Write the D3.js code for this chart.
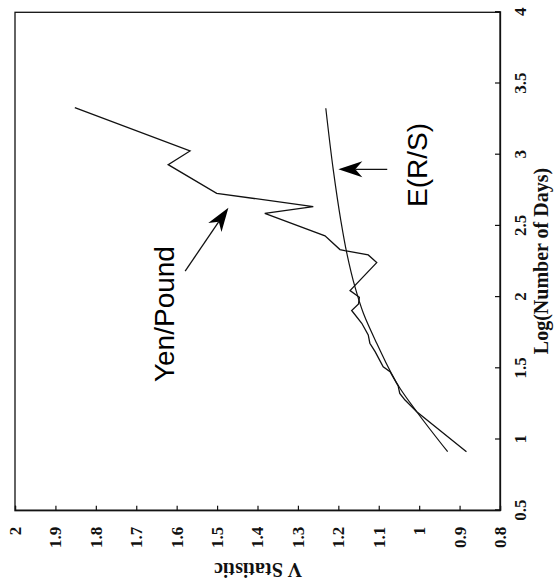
<!DOCTYPE html>
<html>
<head>
<meta charset="utf-8">
<script src="https://cdn.jsdelivr.net/npm/d3@7"></script>
<style>
  html, body { margin: 0; padding: 0; background: #fff; }
  svg { display: block; }
</style>
</head>
<body>
<svg id="chart" width="557" height="586"></svg>
<script>
// ---- Data (x = Log(Number of Days), v = V Statistic) ----
const yenLogDays = [3.330, 3.026, 2.930, 2.729, 2.635, 2.588, 2.430, 2.334, 2.326, 2.296, 2.242,
                    2.046, 1.999, 1.952, 1.906, 1.816, 1.734, 1.676, 1.617, 1.511, 1.476,
                    1.376, 1.324, 1.277, 1.195, 0.914];
const yenV       = [1.852, 1.567, 1.621, 1.501, 1.262, 1.382, 1.233, 1.196, 1.184, 1.126, 1.105,
                    1.171, 1.148, 1.150, 1.167, 1.142, 1.126, 1.122, 1.109, 1.089, 1.072,
                    1.052, 1.048, 1.035, 1.006, 0.883];
const ersLogDays = [3.326, 2.893, 2.541, 2.308, 2.073, 1.886, 1.676, 1.360, 1.195, 0.914];
const ersV       = [1.231, 1.2125, 1.194, 1.179, 1.159, 1.138, 1.105, 1.0475, 1.006, 0.9295];

const xTicks = [0.5, 1, 1.5, 2, 2.5, 3, 3.5, 4];
const xTickLabels = ["0.5", "1", "1.5", "2", "2.5", "3", "3.5", "4"];
const vTicks = [0.8, 0.9, 1.0, 1.1, 1.2, 1.3, 1.4, 1.5, 1.6, 1.7, 1.8, 1.9, 2.0];
const vTickLabels = ["0.8", "0.9", "1", "1.1", "1.2", "1.3", "1.4", "1.5", "1.6", "1.7", "1.8", "1.9", "2"];

// annotations: [label, labelX, labelV, arrowTailX, arrowTailV, arrowTipX, arrowTipV]
const annotations = [
  ["Yen/Pound", 1.881, 1.631, 2.183, 1.579, 2.628, 1.472],
  ["E(R/S)",    2.928, 1.004, 2.897, 1.079, 2.897, 1.200]
];

// ---- Layout: chart drawn in normal orientation, then rotated -90deg ----
const svg = d3.select("#chart");
svg.append("rect").attr("width", 557).attr("height", 586).attr("fill", "#fff");

const W = 498.4;   // length of the x (log days) axis
const H = 485;     // length of the V axis
const g = svg.append("g").attr("transform", "translate(15,510.7) rotate(-90)");

const x = d3.scaleLinear().domain([0.5, 4]).range([0, W]);
const y = d3.scaleLinear().domain([0.8, 2]).range([H, 0]);

const serif = "'Liberation Serif','Times New Roman',Times,serif";
const sans = "'Liberation Sans',Arial,Helvetica,sans-serif";

// frame
g.append("rect").attr("x", 0).attr("y", 0).attr("width", W).attr("height", H)
  .attr("fill", "none").attr("stroke", "#111").attr("stroke-width", 1.3);

// x axis (appears on right side of the screen)
const xAxis = d3.axisBottom(x).tickValues(xTicks)
  .tickFormat((d, i) => xTickLabels[i]).tickSize(-5).tickPadding(14);
const gx = g.append("g").attr("transform", `translate(0,${H})`).call(xAxis);

// V axis (appears at bottom of the screen)
const yAxis = d3.axisLeft(y).tickValues(vTicks)
  .tickFormat((d, i) => vTickLabels[i]).tickSize(-5).tickPadding(16);
const gy = g.append("g").call(yAxis);

[gx, gy].forEach(a => {
  a.select(".domain").attr("stroke", "#111").attr("stroke-width", 1.3);
  a.selectAll(".tick line").attr("stroke", "#111").attr("stroke-width", 1.2);
  a.selectAll(".tick text").attr("font-family", serif).attr("font-size", 17)
    .attr("font-weight", "bold").attr("fill", "#111");
});

// lines
const lineGen = d3.line().x(d => x(d[0])).y(d => y(d[1]));
const ersGen = d3.line().x(d => x(d[0])).y(d => y(d[1])).curve(d3.curveMonotoneX);

const yenData = yenLogDays.map((d, i) => [d, yenV[i]]);
const ersData = ersLogDays.map((d, i) => [d, ersV[i]]);

g.append("path").datum(ersData).attr("d", ersGen)
  .attr("fill", "none").attr("stroke", "#111").attr("stroke-width", 1.2);
g.append("path").datum(yenData).attr("d", lineGen)
  .attr("fill", "none").attr("stroke", "#111").attr("stroke-width", 1.3)
  .attr("stroke-linejoin", "miter");

// annotations
annotations.forEach(a => {
  const [label, lx, lv, tx, tv, hx, hv] = a;
  g.append("text").attr("x", x(lx)).attr("y", y(lv))
    .attr("text-anchor", "middle").attr("dominant-baseline", "central")
    .attr("font-family", sans).attr("font-size", 28).attr("fill", "#000")
    .text(label);
  const x1 = x(tx), y1 = y(tv), x2 = x(hx), y2 = y(hv);
  const ang = Math.atan2(y2 - y1, x2 - x1);
  const len = 24, half = 8, notch = 17;
  const ux = Math.cos(ang), uy = Math.sin(ang);
  const px = -uy, py = ux;
  const bx = x2 - ux * len, by = y2 - uy * len;
  const nx = x2 - ux * notch, ny = y2 - uy * notch;
  g.append("line").attr("x1", x1).attr("y1", y1).attr("x2", nx).attr("y2", ny)
    .attr("stroke", "#111").attr("stroke-width", 1.3);
  g.append("path")
    .attr("d", `M${x2},${y2}L${bx + px * half},${by + py * half}L${nx},${ny}L${bx - px * half},${by - py * half}Z`)
    .attr("fill", "#000");
});

// axis titles (screen coordinates)
svg.append("text").attr("transform", "translate(541,261) rotate(-90)")
  .attr("text-anchor", "middle").attr("dominant-baseline", "central")
  .attr("font-family", serif).attr("font-size", 20).attr("font-weight", "bold")
  .attr("fill", "#111").text("Log(Number of Days)");
svg.append("text").attr("transform", "translate(258,570) rotate(180)")
  .attr("text-anchor", "middle").attr("dominant-baseline", "central")
  .attr("font-family", serif).attr("font-size", 20).attr("font-weight", "bold")
  .attr("fill", "#111").text("V Statistic");
</script>
</body>
</html>
